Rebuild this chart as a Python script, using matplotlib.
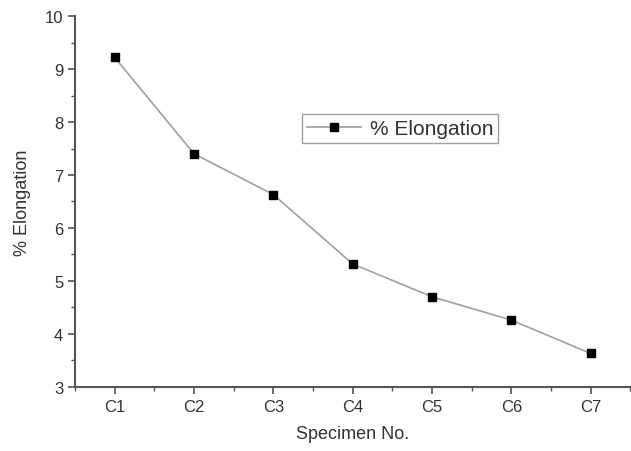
import matplotlib
matplotlib.use("Agg")
import matplotlib.pyplot as plt
from matplotlib.ticker import MultipleLocator

categories = ["C1", "C2", "C3", "C4", "C5", "C6", "C7"]
elongation = [9.22, 7.40, 6.63, 5.32, 4.70, 4.26, 3.63]

plt.rcParams['font.family'] = ['Liberation Sans', 'DejaVu Sans']

fig = plt.figure(figsize=(6.31, 4.52), dpi=100)
ax = fig.add_axes([0.119, 0.142, 0.880, 0.820])

x = list(range(1, len(categories) + 1))
ax.plot(x, elongation, color='#a0a0a0', lw=1.2, marker='s', markersize=6,
        markerfacecolor='black', markeredgecolor='black', label='% Elongation')

ax.set_xlim(0.5, 7.5)
ax.set_ylim(3, 10)
ax.set_xticks(x)
ax.set_xticklabels(categories)
ax.xaxis.set_minor_locator(MultipleLocator(0.5))
ax.yaxis.set_major_locator(MultipleLocator(1))
ax.yaxis.set_minor_locator(MultipleLocator(0.5))

for s in ['top', 'right']:
    ax.spines[s].set_visible(False)
for s in ['left', 'bottom']:
    ax.spines[s].set_color('#555555')
    ax.spines[s].set_linewidth(1.5)

ax.tick_params(which='major', direction='out', length=5, width=1.2, color='#555555',
               labelsize=12, labelcolor='#333333')
ax.tick_params(which='minor', direction='out', length=3, width=1, color='#555555')

ax.set_xlabel('Specimen No.', fontsize=13, color='#333333', labelpad=8)
ax.set_ylabel('% Elongation', fontsize=13, color='#333333', labelpad=10)

leg = ax.legend(loc='upper left', bbox_to_anchor=(0.39, 0.765), fontsize=15,
                frameon=True, fancybox=False, handlelength=2.6, handletextpad=0.4,
                borderpad=0.25, labelcolor='#333333')
leg.get_frame().set_edgecolor('#888888')
leg.get_frame().set_linewidth(1.0)

fig.savefig('out.png', dpi=100)
